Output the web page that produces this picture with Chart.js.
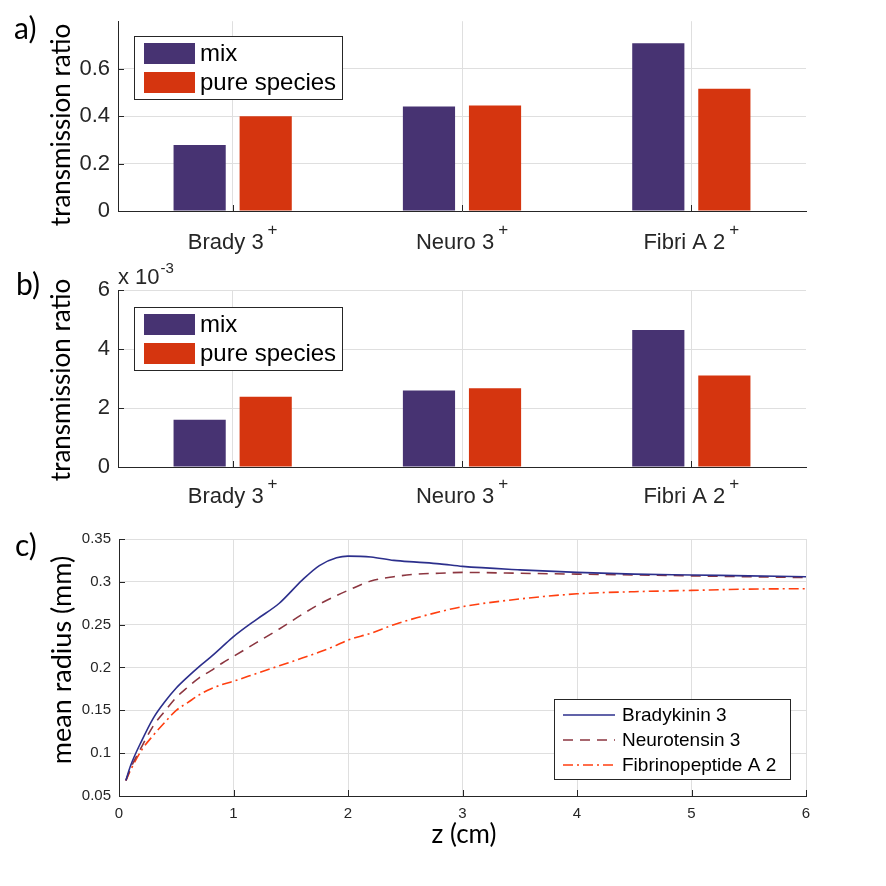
<!DOCTYPE html>
<html lang="en">
<head>
    <meta charset="UTF-8">
    <title>Transmission ratio and mean radius</title>
    <script src="https://cdn.jsdelivr.net/npm/chart.js"></script>
    <style>
        html, body { margin: 0; padding: 0; background: #fff; }
        .panel { position: absolute; left: 0; width: 886px; }
    </style>
</head>
<body>
    <div class="panel" style="top:0px;height:262px"><canvas id="chartA" width="886" height="262"></canvas></div>
    <div class="panel" style="top:262px;height:258px"><canvas id="chartB" width="886" height="258"></canvas></div>
    <div class="panel" style="top:520px;height:366px"><canvas id="chartC" width="886" height="366"></canvas></div>
    <script>
        // bar panels
        const categories = ['Brady 3', 'Neuro 3', 'Fibri A 2'];
        const charges = ['+', '+', '+'];
        const seriesNames = ['mix', 'pure species'];
        const mixA = [0.278, 0.440, 0.707];
        const pureA = [0.399, 0.445, 0.515];
        const mixB = [1.60, 2.59, 4.64];   // x 10^-3
        const pureB = [2.38, 2.67, 3.10];  // x 10^-3
        const yTicksA = [0, 0.2, 0.4, 0.6];
        const yTicksB = [0, 2, 4, 6];

        // line panel
        const zTicks = [0, 1, 2, 3, 4, 5, 6];
        const rTicks = [0.05, 0.1, 0.15, 0.2, 0.25, 0.3, 0.35];
        const lineNames = ['Bradykinin 3', 'Neurotensin 3', 'Fibrinopeptide A 2'];
        const zCm = [0.06, 0.1, 0.2, 0.3, 0.4, 0.5, 0.6, 0.7, 0.8, 0.9, 1.0, 1.2, 1.4, 1.6, 1.75, 1.9, 2.0, 2.2, 2.4, 2.6, 2.8, 3.0, 3.5, 4.0, 4.5, 5.0, 5.5, 6.0];
        const bradykinin = [0.068, 0.085, 0.115, 0.141, 0.160, 0.176, 0.189, 0.201, 0.212, 0.224, 0.236, 0.256, 0.275, 0.302, 0.319, 0.328, 0.330, 0.329, 0.325, 0.323, 0.321, 0.318, 0.314, 0.311, 0.309, 0.308, 0.307, 0.306];
        const neurotensin = [0.068, 0.082, 0.108, 0.132, 0.149, 0.165, 0.177, 0.188, 0.196, 0.205, 0.213, 0.229, 0.245, 0.262, 0.274, 0.284, 0.290, 0.301, 0.306, 0.309, 0.310, 0.311, 0.310, 0.309, 0.308, 0.307, 0.306, 0.305];
        const fibrinopeptide = [0.068, 0.080, 0.104, 0.121, 0.136, 0.150, 0.159, 0.168, 0.175, 0.180, 0.184, 0.193, 0.202, 0.211, 0.218, 0.226, 0.232, 0.240, 0.250, 0.258, 0.265, 0.271, 0.280, 0.286, 0.2885, 0.290, 0.2915, 0.292];

        const barColors = ['#473372', '#d5350f'];
        const lineColors = ['#2c2f8c', '#8c3640', '#ff3f10'];
        const lineDashes = [[], [10, 7], [10, 4, 2, 4]];

        const AXIS = '#262626';
        const GRID = '#dfdfdf';
        const SANS = '"Liberation Sans", Arial, sans-serif';
        const TITLE = 'Lato, "Open Sans", sans-serif';

        function setTicks(values) {
            return scale => { scale.ticks = values.map(v => ({ value: v })); };
        }
        const plainNum = v => String(+Number(v).toFixed(3));

        function drawInwardTicks(chart) {
            const ctx = chart.ctx, xs = chart.scales.x, ys = chart.scales.y;
            const a = chart.chartArea;
            ctx.save();
            ctx.strokeStyle = AXIS;
            ctx.lineWidth = 1;
            ctx.beginPath();
            xs.ticks.forEach(t => {
                const px = Math.round(xs.getPixelForValue(t.value)) + 0.5;
                ctx.moveTo(px, a.bottom);
                ctx.lineTo(px, a.bottom - 6);
            });
            ys.ticks.forEach(t => {
                const py = Math.round(ys.getPixelForValue(t.value)) + 0.5;
                ctx.moveTo(a.left, py);
                ctx.lineTo(a.left + 6, py);
            });
            ctx.stroke();
            ctx.restore();
        }

        function drawRotated(ctx, text, x, y, font) {
            ctx.save();
            ctx.translate(x, y);
            ctx.rotate(-Math.PI / 2);
            ctx.font = font;
            ctx.fillStyle = '#000';
            ctx.textAlign = 'center';
            ctx.textBaseline = 'middle';
            ctx.fillText(text, 0, 0);
            ctx.restore();
        }

        function drawCategoryLabels(chart, yMid) {
            const ctx = chart.ctx, xs = chart.scales.x;
            ctx.save();
            ctx.fillStyle = AXIS;
            ctx.textBaseline = 'middle';
            ctx.textAlign = 'left';
            categories.forEach((c, i) => {
                ctx.font = '22px ' + SANS;
                const w1 = ctx.measureText(c).width;
                ctx.font = '17px ' + SANS;
                const w2 = ctx.measureText(charges[i]).width;
                const x0 = xs.getPixelForValue(i) - (w1 + 4 + w2) / 2;
                ctx.font = '22px ' + SANS;
                ctx.fillText(c, x0, yMid);
                ctx.font = '17px ' + SANS;
                ctx.fillText(charges[i], x0 + w1 + 4, yMid - 13);
            });
            ctx.restore();
        }

        function drawBarLegend(chart, bx, by) {
            const ctx = chart.ctx;
            ctx.save();
            ctx.fillStyle = '#fff';
            ctx.fillRect(bx, by, 208, 63);
            ctx.strokeStyle = AXIS;
            ctx.lineWidth = 1;
            ctx.strokeRect(bx + 0.5, by + 0.5, 208, 63);
            ctx.font = '24px ' + SANS;
            ctx.textBaseline = 'middle';
            ctx.textAlign = 'left';
            seriesNames.forEach((n, i) => {
                const cy = by + 17 + i * 29;
                ctx.fillStyle = barColors[i];
                ctx.fillRect(bx + 10, cy - 10, 51, 21);
                ctx.fillStyle = '#000';
                ctx.fillText(n, bx + 66, cy + 1);
            });
            ctx.restore();
        }

        function panelLabel(ctx, text, x, y) {
            ctx.save();
            ctx.font = '30px ' + TITLE;
            ctx.fillStyle = '#000';
            ctx.textBaseline = 'top';
            ctx.fillText(text, x, y);
            ctx.restore();
        }

        function barChart(id, mix, pure, yMax, yTicks, topPad, xHeight, decor) {
            return new Chart(document.getElementById(id), {
                type: 'bar',
                data: {
                    labels: categories,
                    datasets: [
                        { label: seriesNames[0], data: mix, backgroundColor: barColors[0] },
                        { label: seriesNames[1], data: pure, backgroundColor: barColors[1] }
                    ]
                },
                options: {
                    responsive: false,
                    animation: false,
                    devicePixelRatio: 1,
                    categoryPercentage: 0.576,
                    barPercentage: 0.79,
                    layout: { padding: { left: 0, right: 80, top: topPad, bottom: 0 } },
                    plugins: { legend: { display: false }, tooltip: { enabled: false } },
                    scales: {
                        x: {
                            offset: true,
                            grid: { offset: false, color: GRID, drawTicks: false },
                            border: { color: AXIS, width: 1 },
                            ticks: { display: false },
                            afterFit: s => { s.height = xHeight; }
                        },
                        y: {
                            min: 0, max: yMax,
                            grid: { color: GRID, drawTicks: false },
                            border: { color: AXIS, width: 1 },
                            afterBuildTicks: setTicks(yTicks),
                            ticks: { color: AXIS, padding: 8, font: { size: 22, family: SANS }, callback: plainNum },
                            afterFit: s => { s.width = 118; }
                        }
                    }
                },
                plugins: [{ id: 'decor', afterDraw: decor }]
            });
        }

        barChart('chartA', mixA, pureA, 0.8, yTicksA, 19, 51, chart => {
            const ctx = chart.ctx;
            drawInwardTicks(chart);
            drawCategoryLabels(chart, 243);
            drawBarLegend(chart, 134, 36);
            drawRotated(ctx, 'transmission ratio', 62, 125, '26px ' + TITLE);
            panelLabel(ctx, 'a)', 14, 14);
        });

        barChart('chartB', mixB, pureB, 6, yTicksB, 28, 53, chart => {
            const ctx = chart.ctx;
            drawInwardTicks(chart);
            drawCategoryLabels(chart, 235);
            drawBarLegend(chart, 134, 45);
            drawRotated(ctx, 'transmission ratio', 62, 118, '26px ' + TITLE);
            panelLabel(ctx, 'b)', 16, 8);
            // exponent label
            ctx.save();
            ctx.fillStyle = AXIS;
            ctx.textBaseline = 'middle';
            ctx.font = '22px ' + SANS;
            ctx.fillText('x 10', 118, 16);
            const w = ctx.measureText('x 10').width;
            ctx.font = '15px ' + SANS;
            ctx.fillText('-3', 118 + w + 1, 7);
            ctx.restore();
        });

        const lineSeries = [bradykinin, neurotensin, fibrinopeptide];

        new Chart(document.getElementById('chartC'), {
            type: 'line',
            data: {
                datasets: lineSeries.map((vals, k) => ({
                    label: lineNames[k],
                    data: zCm.map((z, i) => ({ x: z, y: vals[i] })),
                    borderColor: lineColors[k],
                    borderDash: lineDashes[k],
                    borderWidth: 1.6,
                    pointRadius: 0,
                    fill: false,
                    cubicInterpolationMode: 'monotone'
                }))
            },
            options: {
                responsive: false,
                animation: false,
                devicePixelRatio: 1,
                layout: { padding: { left: 0, right: 80, top: 19, bottom: 0 } },
                plugins: { legend: { display: false }, tooltip: { enabled: false } },
                scales: {
                    x: {
                        type: 'linear', min: 0, max: 6,
                        grid: { color: GRID, drawTicks: false },
                        border: { color: AXIS, width: 1 },
                        afterBuildTicks: setTicks(zTicks),
                        ticks: { color: AXIS, padding: 9, font: { size: 15, family: SANS }, callback: plainNum },
                        afterFit: s => { s.height = 90; }
                    },
                    y: {
                        min: 0.05, max: 0.35,
                        grid: { color: GRID, drawTicks: false },
                        border: { color: AXIS, width: 1 },
                        afterBuildTicks: setTicks(rTicks),
                        ticks: { color: AXIS, padding: 8, font: { size: 15, family: SANS }, callback: plainNum },
                        afterFit: s => { s.width = 119; }
                    }
                }
            },
            plugins: [{
                id: 'decor',
                afterDraw: chart => {
                    const ctx = chart.ctx;
                    drawInwardTicks(chart);
                    // legend
                    const bx = 554, by = 179;
                    ctx.save();
                    ctx.fillStyle = '#fff';
                    ctx.fillRect(bx, by, 236, 80);
                    ctx.strokeStyle = AXIS;
                    ctx.lineWidth = 1;
                    ctx.strokeRect(bx + 0.5, by + 0.5, 236, 80);
                    ctx.font = '19px ' + SANS;
                    ctx.textBaseline = 'middle';
                    lineNames.forEach((n, k) => {
                        const cy = by + 16 + k * 25;
                        ctx.strokeStyle = lineColors[k];
                        ctx.lineWidth = 1.6;
                        ctx.setLineDash(lineDashes[k]);
                        ctx.beginPath();
                        ctx.moveTo(bx + 9, cy);
                        ctx.lineTo(bx + 61, cy);
                        ctx.stroke();
                        ctx.setLineDash([]);
                        ctx.fillStyle = '#000';
                        ctx.fillText(n, bx + 68, cy + 1);
                    });
                    ctx.restore();
                    drawRotated(ctx, 'mean radius (mm)', 62, 140, '27px ' + TITLE);
                    ctx.save();
                    ctx.font = '26px ' + TITLE;
                    ctx.fillStyle = '#000';
                    ctx.textAlign = 'center';
                    ctx.textBaseline = 'middle';
                    ctx.fillText('z (cm)', 464, 315);
                    ctx.restore();
                    panelLabel(ctx, 'c)', 15, 11);
                }
            }]
        });
    </script>
</body>
</html>
